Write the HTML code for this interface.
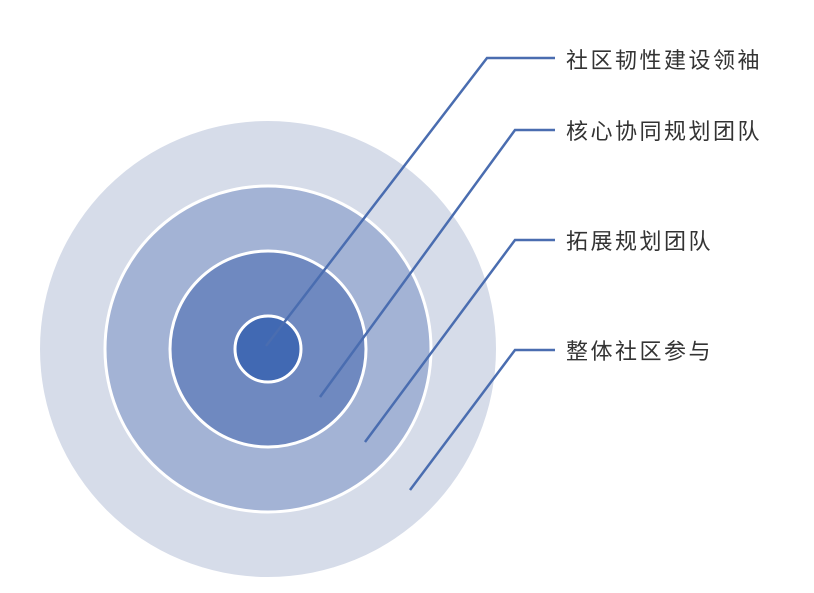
<!DOCTYPE html>
<html><head><meta charset="utf-8"><style>
html,body{margin:0;padding:0;background:#fff;}
svg{display:block;}
text{font-family:"Liberation Sans","Noto Sans CJK SC",sans-serif;font-size:22px;fill:#333;letter-spacing:2.5px;}
</style></head><body>
<svg width="814" height="593" viewBox="0 0 814 593">
<circle cx="268" cy="349" r="228" fill="#d6dce9"/>
<circle cx="268" cy="349" r="163" fill="#a3b3d5" stroke="#fff" stroke-width="3"/>
<circle cx="268" cy="349" r="98" fill="#6f89c0" stroke="#fff" stroke-width="3"/>
<circle cx="268" cy="349" r="33" fill="#4169b3" stroke="#fff" stroke-width="3"/>
<g fill="none" stroke="#4a6db0" stroke-width="2.5">
<polyline points="266,346 487,58 555,58"/>
<polyline points="320,397 515,130 555,130"/>
<polyline points="365,442 515,240 555,240"/>
<polyline points="410,490 515,350 555,350"/>
</g>
<text x="566" y="68">社区韧性建设领袖</text>
<text x="566" y="139">核心协同规划团队</text>
<text x="566" y="249">拓展规划团队</text>
<text x="566" y="359">整体社区参与</text>
</svg>
</body></html>
